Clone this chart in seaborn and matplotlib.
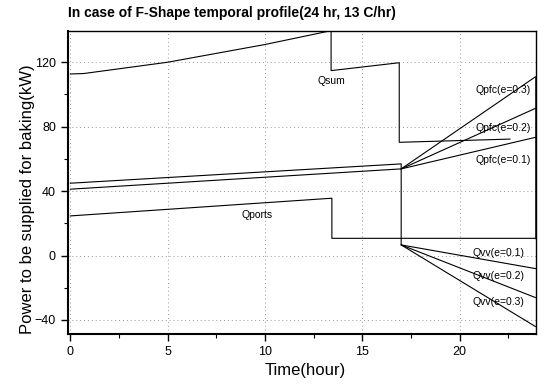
import matplotlib
matplotlib.use("Agg")
import matplotlib.pyplot as plt
import seaborn as sns
import numpy as np
import pandas as pd

# ---- data ----
qsum_x = [0.0, 0.7, 5.0, 10.0, 13.4, 13.4, 16.9, 16.9, 22.6]
qsum_y = [112.7, 113.0, 120.0, 131.0, 139.6, 114.8, 119.7, 70.3, 72.3]

upper_x = [0.0, 17.0, 17.0]
upper_y = [44.9, 56.9, 6.6]
lower_x = [0.0, 17.0]
lower_y = [41.2, 53.8]

qports_x = [0.0, 13.44, 13.44, 23.9]
qports_y = [24.6, 35.6, 10.7, 10.7]

fan_start_x = 17.0
qpfc_start = 53.8
qpfc_end = [73.4, 91.4, 111.0]      # e = 0.1, 0.2, 0.3
qvv_start = 6.6
qvv_end = [-8.1, -26.1, -44.1]      # e = 0.1, 0.2, 0.3
end_x = 23.9

right_edge_x = [23.9, 23.9]
right_edge_y = [111.0, 10.7]

e_values = ["0.1", "0.2", "0.3"]
qpfc_label_y = [59.3, 79.0, 102.8]
qvv_label_y = [1.4, -12.7, -28.6]

x_ticks = [0, 5, 10, 15, 20]
y_ticks = [-40, 0, 40, 80, 120]

title = "In case of F-Shape temporal profile(24 hr, 13 C/hr)"
xlabel = "Time(hour)"
ylabel = "Power to be supplied for baking(kW)"

# ---- plot ----
sns.set_theme(style="white")
plt.rcParams['font.family'] = ['Liberation Sans', 'DejaVu Sans']
plt.rcParams['text.color'] = 'black'
plt.rcParams['axes.labelcolor'] = 'black'
plt.rcParams['xtick.color'] = 'black'
plt.rcParams['ytick.color'] = 'black'

fig = plt.figure(figsize=(5.45, 3.85), dpi=100)
ax = fig.add_axes([0.1242, 0.1312, 0.8584, 0.7883])

lw = 0.8
kw = dict(color="black", linewidth=lw, sort=False, estimator=None, ax=ax, legend=False)

sns.lineplot(x=qsum_x, y=qsum_y, **kw)
sns.lineplot(x=upper_x, y=upper_y, **kw)
sns.lineplot(x=lower_x, y=lower_y, **kw)
sns.lineplot(x=qports_x, y=qports_y, **kw)
for v in qpfc_end:
    sns.lineplot(x=[fan_start_x, end_x], y=[qpfc_start, v], **kw)
for v in qvv_end:
    sns.lineplot(x=[fan_start_x, end_x], y=[qvv_start, v], **kw)
sns.lineplot(x=right_edge_x, y=right_edge_y, color="black", linewidth=1.8,
             sort=False, estimator=None, ax=ax, legend=False)

# labels on curves
fs = 7.5
ax.text(13.4, 108.6, "Qsum", fontsize=fs, ha="center", va="center", color="black")
ax.text(9.6, 25.2, "Qports", fontsize=fs, ha="center", va="center", color="black")
for e, y in zip(e_values, qpfc_label_y):
    ax.text(22.26, y, f"Qpfc(e={e})", fontsize=fs, ha="center", va="center", color="black")
for e, y in zip(e_values, qvv_label_y):
    ax.text(22.0, y, f"Qvv(e={e})", fontsize=fs, ha="center", va="center", color="black")

ax.set_xlim(-0.13, 23.9)
ax.set_ylim(-49, 139.4)
ax.set_xticks(x_ticks)
ax.set_yticks(y_ticks)
ax.set_xticks([2.5, 7.5, 12.5, 17.5, 22.5], minor=True)
ax.set_yticks([-20, 20, 60, 100], minor=True)
ax.tick_params(which="major", direction="out", length=5, width=1.0, labelsize=9,
               bottom=True, left=True, colors="black")
ax.tick_params(which="minor", direction="out", length=3, width=0.8,
               bottom=True, left=True, colors="black")
ax.grid(True, which="major", linestyle=(0, (1, 3)), color="#999999", linewidth=0.7)

for s in ax.spines.values():
    s.set_color("black")
    s.set_linewidth(1.0)
ax.spines["left"].set_linewidth(1.5)
ax.spines["bottom"].set_linewidth(1.5)

ax.set_xlabel(xlabel, fontsize=12, color="black", labelpad=3)
ax.xaxis.set_label_coords(0.507, -0.093)
ax.set_ylabel(ylabel, fontsize=12, color="black", labelpad=4)
ax.yaxis.set_label_coords(-0.07, 0.446)
fig.text(0.1242, 0.965, title, fontsize=10, fontweight="bold", ha="left", va="center",
         color="black")

fig.savefig("out.png", dpi=100)
